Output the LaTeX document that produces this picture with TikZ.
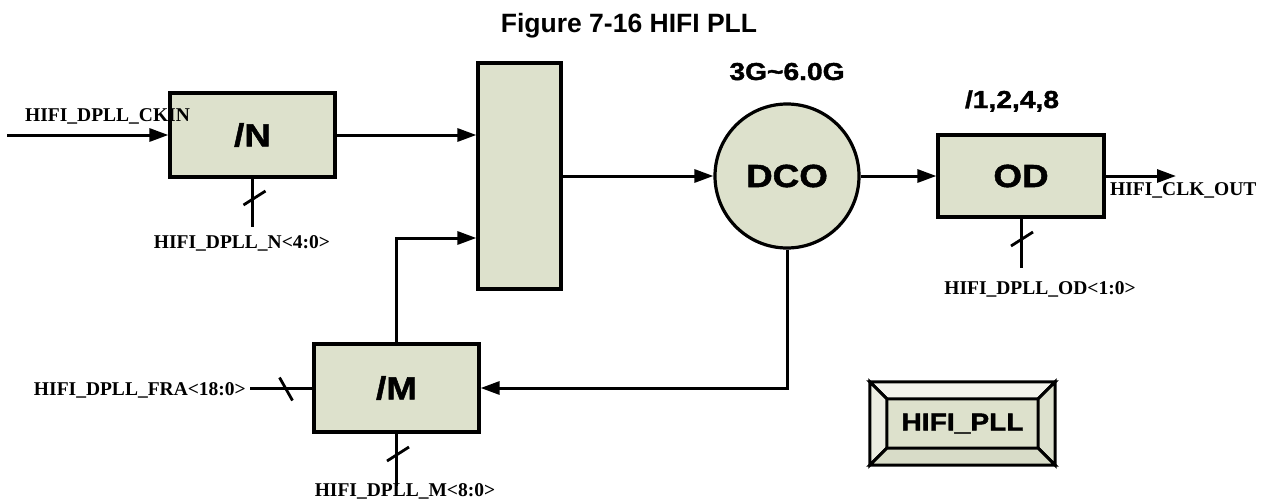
\documentclass[tikz,border=0pt]{standalone}
\usepackage{fontspec}
\setmainfont{Liberation Serif}
\newfontfamily\blkfont[FakeStretch=1.15,FakeBold=1.6]{Liberation Sans Bold}
\newfontfamily\ttlfont{Liberation Sans Bold}
\usetikzlibrary{arrows.meta,calc}
\definecolor{blockfill}{RGB}{221,225,204}
\definecolor{bevtop}{RGB}{243,243,236}
\definecolor{bevleft}{RGB}{236,237,226}
\definecolor{bevright}{RGB}{221,225,206}
\definecolor{bevbot}{RGB}{216,220,200}
\tikzset{
  block/.style={
    draw=black,
    line width=3.2pt,
    fill=blockfill,
    inner sep=0pt,
    font=\blkfont\fontsize{32}{34}\selectfont
  },
  dcoblock/.style={block, circle, minimum size=144pt},
  edge/.style={-{Triangle[length=19pt,width=13pt]}, line width=3pt},
  bus/.style={line width=3pt},
  slash/.style={line width=2.8pt},
  sig/.style={inner sep=0pt, font=\bfseries\fontsize{19.5}{21}\selectfont},
  note/.style={inner sep=0pt, font=\blkfont\fontsize{24.5}{26}\selectfont},
  ttl/.style={inner sep=0pt, anchor=base, font=\ttlfont\fontsize{26.5}{28}\selectfont},
  bevel/.style={draw=black, line width=3pt, line join=miter}
}
\newcommand{\vslash}[1]{\draw[slash] (#1) ++(-11,7) -- ++(22,-14);}
\newcommand{\hslash}[1]{\draw[slash] (#1) ++(-6.5,-11.5) -- ++(13,23);}

\begin{document}
\begin{tikzpicture}[x=1pt, y=-1pt]
  \useasboundingbox (0,0) rectangle (1271,499);
  \node[ttl] (title) at (629,32) {Figure 7-16 HIFI PLL};

  \node[block, minimum width=165pt, minimum height=84pt] (divn) at (252.5,135) {/N};
  \node[block, minimum width=83pt, minimum height=226pt] (mux) at (519.5,176) {};
  \node[dcoblock] (dco) at (787,176) {DCO};
  \node[block, minimum width=166pt, minimum height=82pt] (od) at (1021,176) {OD};
  \node[block, minimum width=165pt, minimum height=88pt] (divm) at (396.5,388) {/M};
  \node[note, anchor=base] (freq) at (787,80) {3G\textasciitilde 6.0G};
  \node[note, anchor=base] (odsel) at (1012,108) {/1,2,4,8};

  \coordinate (ckin) at (7,135);
  \coordinate (muxfb) at ($(mux.west)+(0,62)$);
  \coordinate (clkout) at (1176,176);
  \coordinate (nbus) at (252.5,227);
  \coordinate (odbus) at (1021,268);
  \coordinate (mbus) at (396.5,486);
  \coordinate (frabus) at (250,388);

  \draw[edge] (ckin) -- (divn.west);
  \draw[edge] (divn.east) -- (divn.east -| mux.west);
  \draw[edge] (divm.north) |- (muxfb);
  \draw[edge] (mux.east) -- (dco.west);
  \draw[edge] (dco.east) -- (od.west);
  \draw[edge] (od.east) -- (clkout);
  \draw[edge] (dco.south) |- (divm.east);

  \draw[bus] (divn.south) -- (nbus);
  \draw[bus] (od.south) -- (odbus);
  \draw[bus] (divm.south) -- (mbus);
  \draw[bus] (frabus) -- (divm.west);
  \vslash{254.5,198}
  \vslash{1022,239}
  \vslash{398,454}
  \hslash{286,389}

  \node[sig, anchor=base west] (ckinlbl) at (25,121) {HIFI\_DPLL\_CKIN};
  \node[sig, anchor=base] (nlbl) at (242,248) {HIFI\_DPLL\_N<4:0>};
  \node[sig, anchor=base east] (fralbl) at (246,395) {HIFI\_DPLL\_FRA<18:0>};
  \node[sig, anchor=base] (mlbl) at (405,496) {HIFI\_DPLL\_M<8:0>};
  \node[sig, anchor=base west] (clkoutlbl) at (1110,195) {HIFI\_CLK\_OUT};
  \node[sig, anchor=base] (odlbl) at (1040,294) {HIFI\_DPLL\_OD<1:0>};

  \node[note, minimum width=151pt, minimum height=49pt, fill=blockfill] (pll) at (962.5,423.5) {HIFI\_PLL};
  \coordinate (pllnw) at ($(pll.north west)+(-17,-17)$);
  \coordinate (pllne) at ($(pll.north east)+(17,-17)$);
  \coordinate (pllse) at ($(pll.south east)+(17,17)$);
  \coordinate (pllsw) at ($(pll.south west)+(-17,17)$);
  \filldraw[bevel, fill=bevtop] (pllnw) -- (pllne) -- (pll.north east) -- (pll.north west) -- cycle;
  \filldraw[bevel, fill=bevleft] (pllnw) -- (pll.north west) -- (pll.south west) -- (pllsw) -- cycle;
  \filldraw[bevel, fill=bevright] (pllne) -- (pllse) -- (pll.south east) -- (pll.north east) -- cycle;
  \filldraw[bevel, fill=bevbot] (pllsw) -- (pll.south west) -- (pll.south east) -- (pllse) -- cycle;
\end{tikzpicture}
\end{document}
